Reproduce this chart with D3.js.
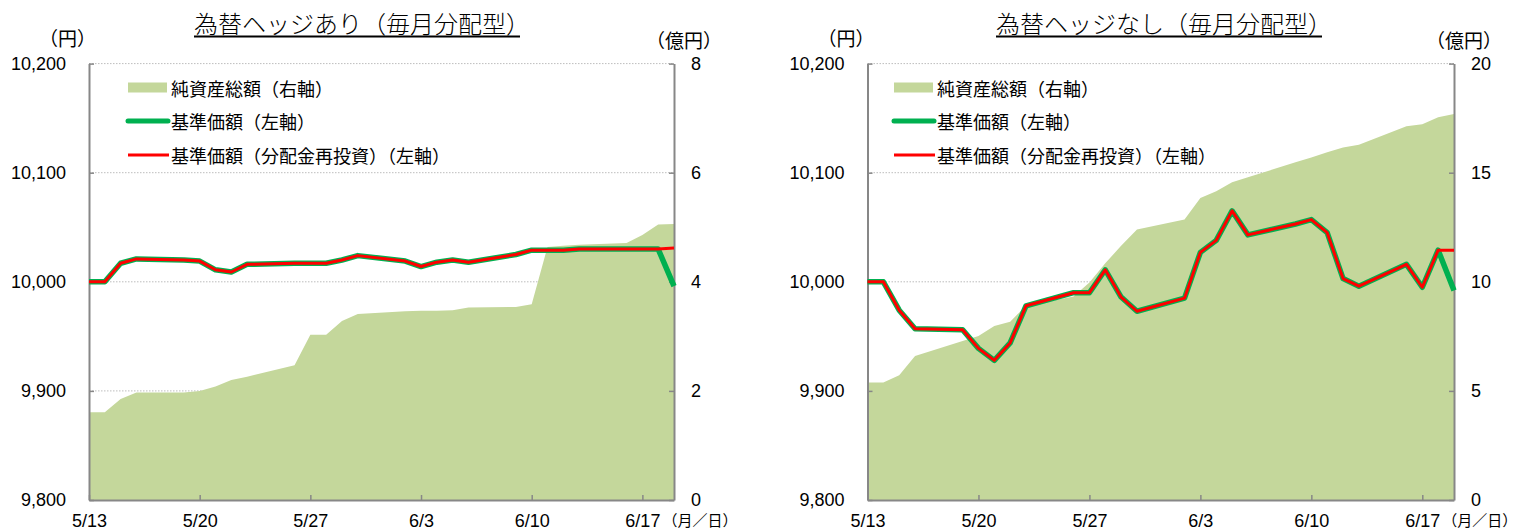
<!DOCTYPE html>
<html>
<head>
<meta charset="utf-8">
<script src="https://cdn.jsdelivr.net/npm/d3@7"></script>
<style>
  body { margin: 0; background: #fff; }
</style>
</head>
<body>
<svg id="chart" width="1525" height="530"></svg>
<script>
// business days shown on both charts (2025)
const dates = [
  "2025-05-13", "2025-05-14", "2025-05-15", "2025-05-16",
  "2025-05-19", "2025-05-20", "2025-05-21", "2025-05-22", "2025-05-23",
  "2025-05-26", "2025-05-27", "2025-05-28", "2025-05-29", "2025-05-30",
  "2025-06-02", "2025-06-03", "2025-06-04", "2025-06-05", "2025-06-06",
  "2025-06-09", "2025-06-10", "2025-06-11", "2025-06-12", "2025-06-13",
  "2025-06-16", "2025-06-17", "2025-06-18", "2025-06-19"
]
const tickDates = ["2025-05-13", "2025-05-20", "2025-05-27", "2025-06-03", "2025-06-10", "2025-06-17"]
const navTicks = [9800, 9900, 10000, 10100, 10200]

// 為替ヘッジあり
const hedgeNav = [10000, 10000, 10017, 10021, 10020, 10019, 10011, 10009, 10016,
  10017, 10017, 10017, 10020, 10024, 10019, 10014, 10018, 10020, 10018,
  10025, 10029, 10029, 10029, 10030, 10030, 10030, 10030, 9996]
const hedgeReinv = [10000, 10000, 10017, 10021, 10020, 10019, 10011, 10009, 10016,
  10017, 10017, 10017, 10020, 10024, 10019, 10014, 10018, 10020, 10018,
  10025, 10029, 10029, 10029, 10030, 10030, 10030, 10030, 10031]
const hedgeAssets = [1.61, 1.61, 1.85, 1.97, 1.97, 2.0, 2.08, 2.2, 2.26,
  2.47, 3.03, 3.03, 3.28, 3.41, 3.46, 3.47, 3.47, 3.48, 3.53,
  3.54, 3.59, 4.64, 4.66, 4.68, 4.71, 4.86, 5.05, 5.06]
const hedgeAssetTicks = [0, 2, 4, 6, 8]

// 為替ヘッジなし
const noHedgeNav = [10000, 10000, 9974, 9957, 9956, 9939, 9928, 9944, 9978,
  9990, 9990, 10011, 9986, 9973, 9985, 10027, 10038, 10065, 10043,
  10053, 10057, 10045, 10003, 9996, 10016, 9995, 10029, 9992]
const noHedgeReinv = [10000, 10000, 9974, 9957, 9956, 9939, 9928, 9944, 9978,
  9990, 9990, 10011, 9986, 9973, 9985, 10027, 10038, 10065, 10043,
  10053, 10057, 10045, 10003, 9996, 10016, 9995, 10029, 10029]
const noHedgeAssets = [5.38, 5.38, 5.72, 6.6, 7.29, 7.52, 7.98, 8.17, 8.9,
  9.33, 9.97, 10.85, 11.65, 12.4, 12.85, 13.84, 14.15, 14.56, 14.79,
  15.48, 15.7, 15.94, 16.16, 16.28, 17.13, 17.22, 17.54, 17.69]
const noHedgeAssetTicks = [0, 5, 10, 15, 20]

const legendLabels = ["純資産総額（右軸）", "基準価額（左軸）", "基準価額（分配金再投資）（左軸）"]

const NUM_FONT = "'Liberation Sans', Arial, sans-serif"
const JP_FONT = "'Noto Sans CJK JP', 'Noto Sans CJK SC', sans-serif"
const AXIS_COLOR = "#878787"
const AREA_COLOR = "#C4D79B"
const GREEN = "#00B050"
const RED = "#FF0000"

const parse = d3.timeParse("%Y-%m-%d")
const fmt = d3.timeFormat("%-m/%-d")
const svg = d3.select("#chart")

function drawChart(cfg) {
    const top = 63.6, bottom = 500
    const x = d3.scaleTime()
        .domain([parse(dates[0]), parse(dates[dates.length - 1])])
        .range([cfg.x0, cfg.x1])
    const yL = d3.scaleLinear().domain([9800, 10200]).range([bottom, top])
    const yR = d3.scaleLinear().domain([0, d3.max(cfg.assetTicks)]).range([bottom, top])

    const g = svg.append("g")

    // dotted gridlines
    g.append("g").selectAll("line")
        .data(navTicks.slice(1))
        .enter().append("line")
            .attr("x1", cfg.x0).attr("x2", cfg.x1)
            .attr("y1", d => yL(d)).attr("y2", d => yL(d))
            .attr("stroke", "#BDBDBD").attr("stroke-width", 1)
            .attr("stroke-dasharray", "1.5,1.5")

    const rows = dates.map((d, i) => ({
        date: parse(d), assets: cfg.assets[i], nav: cfg.nav[i], reinv: cfg.reinv[i]
    }))

    g.append("path")
        .datum(rows)
        .attr("fill", AREA_COLOR)
        .attr("d", d3.area()
            .x(d => x(d.date))
            .y0(yR(0))
            .y1(d => yR(d.assets)))

    // axes
    const styleAxis = sel => {
        sel.select(".domain").attr("stroke", AXIS_COLOR).attr("stroke-width", 2)
        sel.selectAll(".tick line").attr("stroke", AXIS_COLOR).attr("stroke-width", 1.5)
        sel.selectAll("text").attr("fill", "#000").attr("font-family", NUM_FONT)
    }

    g.append("g")
        .attr("transform", `translate(${cfg.x0},0)`)
        .call(d3.axisLeft(yL).tickValues(navTicks).tickFormat(d3.format(","))
            .tickSizeInner(-5).tickSizeOuter(0).tickPadding(23))
        .call(styleAxis)
        .selectAll("text").attr("font-size", 18)

    g.append("g")
        .attr("transform", `translate(${cfg.x1},0)`)
        .call(d3.axisRight(yR).tickValues(cfg.assetTicks)
            .tickSizeInner(-5).tickSizeOuter(0).tickPadding(17))
        .call(styleAxis)
        .selectAll("text").attr("font-size", 18)

    g.append("g")
        .attr("transform", `translate(0,${bottom})`)
        .call(d3.axisBottom(x).tickValues(tickDates.map(parse)).tickFormat(fmt)
            .tickSizeInner(-5).tickSizeOuter(0).tickPadding(14))
        .call(styleAxis)
        .selectAll("text").attr("font-size", 18)

    g.selectAll(".domain").attr("fill", "none")

    // lines
    const line = key => d3.line().x(d => x(d.date)).y(d => yL(d[key]))
    g.append("path").datum(rows)
        .attr("fill", "none").attr("stroke", GREEN).attr("stroke-width", 5.5)
        .attr("stroke-linejoin", "round")
        .attr("d", line("nav"))
    g.append("path").datum(rows)
        .attr("fill", "none").attr("stroke", RED).attr("stroke-width", 3)
        .attr("stroke-linejoin", "round")
        .attr("d", line("reinv"))

    // title with underline
    const title = g.append("text")
        .attr("x", cfg.titleX).attr("y", 33)
        .attr("font-family", JP_FONT).attr("font-size", 24).attr("font-weight", 300)
        .text(cfg.title)
    const tw = title.node().getComputedTextLength()
    g.append("line")
        .attr("x1", cfg.titleX).attr("x2", cfg.titleX + tw - 10)
        .attr("y1", 36.5).attr("y2", 36.5)
        .attr("stroke", "#000").attr("stroke-width", 2)

    // unit labels
    const jpText = (tx, ty, size, str) => g.append("text")
        .attr("x", tx).attr("y", ty)
        .attr("dominant-baseline", "central")
        .attr("font-family", JP_FONT).attr("font-size", size)
        .text(str)
    jpText(cfg.x0 - 50, 37, 19, "（円）")
    jpText(cfg.x1 - 28, 39, 19, "（億円）")
    jpText(x(parse(tickDates[tickDates.length - 1])) + 20, 519.3, 15, "（月／日）")

    // legend
    const lx = cfg.legendX, tx = cfg.legendX + 43
    g.append("rect")
        .attr("x", lx).attr("y", 82.5).attr("width", 39).attr("height", 10)
        .attr("fill", AREA_COLOR)
    g.append("line")
        .attr("x1", lx).attr("x2", lx + 40).attr("y1", 121).attr("y2", 121)
        .attr("stroke", GREEN).attr("stroke-width", 5).attr("stroke-linecap", "round")
    g.append("line")
        .attr("x1", lx).attr("x2", lx + 41).attr("y1", 155).attr("y2", 155)
        .attr("stroke", RED).attr("stroke-width", 3)
    jpText(tx, 88, 18, legendLabels[0])
    jpText(tx, 121, 18, legendLabels[1])
    jpText(tx, 155, 18, legendLabels[2])
}

drawChart({
    title: "為替ヘッジあり（毎月分配型）",
    x0: 89, x1: 674, titleX: 194, legendX: 128,
    assets: hedgeAssets, nav: hedgeNav, reinv: hedgeReinv, assetTicks: hedgeAssetTicks
})
drawChart({
    title: "為替ヘッジなし（毎月分配型）",
    x0: 867.5, x1: 1454, titleX: 996, legendX: 894,
    assets: noHedgeAssets, nav: noHedgeNav, reinv: noHedgeReinv, assetTicks: noHedgeAssetTicks
})
</script>
</body>
</html>
